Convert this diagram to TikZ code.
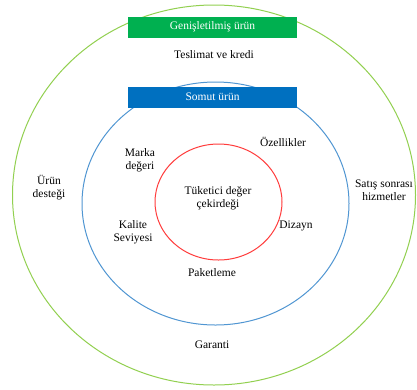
\documentclass[tikz,border=0pt]{standalone}
\usepackage{fontspec}
\setmainfont{Liberation Serif}
\usepackage{xcolor}
\usepackage{tikz}

\definecolor{ringgreen}{RGB}{146,208,80}
\definecolor{boxgreen}{RGB}{0,176,80}
\definecolor{ringblue}{RGB}{80,150,210}
\definecolor{boxblue}{RGB}{0,112,192}
\definecolor{ringred}{RGB}{255,60,60}

\tikzset{
	lbl/.style={font=\fontsize{11.5}{13}\selectfont, align=center, inner sep=1pt},
	banner/.style={minimum width=169pt, minimum height=21pt, inner sep=0pt, text=white, font=\fontsize{11.5}{13}\selectfont}
}

\begin{document}
\begin{tikzpicture}[x=1pt, y=-1pt]
	\useasboundingbox (0,0) rectangle (417,389);
	\fill[white] (0,0) rectangle (417,389);
	\draw[color=ringgreen, line width=1pt] (214,195) ellipse (201.5 and 190);
	\draw[color=ringblue, line width=1pt] (215.5,203.5) ellipse (133.5 and 121.5);
	\draw[color=ringred, line width=1pt] (218.5,202) ellipse (63.5 and 58);
	\node[banner, fill=boxgreen] (genis) at (212.5,27) {Genişletilmiş ürün};
	\node[banner, fill=boxblue] (somut) at (212.5,97) {Somut ürün};
	\node[lbl] (teslimat) at (214,55) {Teslimat ve kredi};
	\node[lbl] (destek) at (49,188) {Ürün\\desteği};
	\node[lbl] (satis) at (384,190) {Satış sonrası\\hizmetler};
	\node[lbl] (garanti) at (212,345) {Garanti};
	\node[lbl] (ozellik) at (283,142) {Özellikler};
	\node[lbl] (marka) at (140,160) {Marka\\değeri};
	\node[lbl] (kalite) at (133,232) {Kalite\\Seviyesi};
	\node[lbl] (dizayn) at (296,226) {Dizayn};
	\node[lbl] (paket) at (212,273) {Paketleme};
	\node[lbl] (cekirdek) at (218,198) {Tüketici değer\\çekirdeği};
\end{tikzpicture}
\end{document}
